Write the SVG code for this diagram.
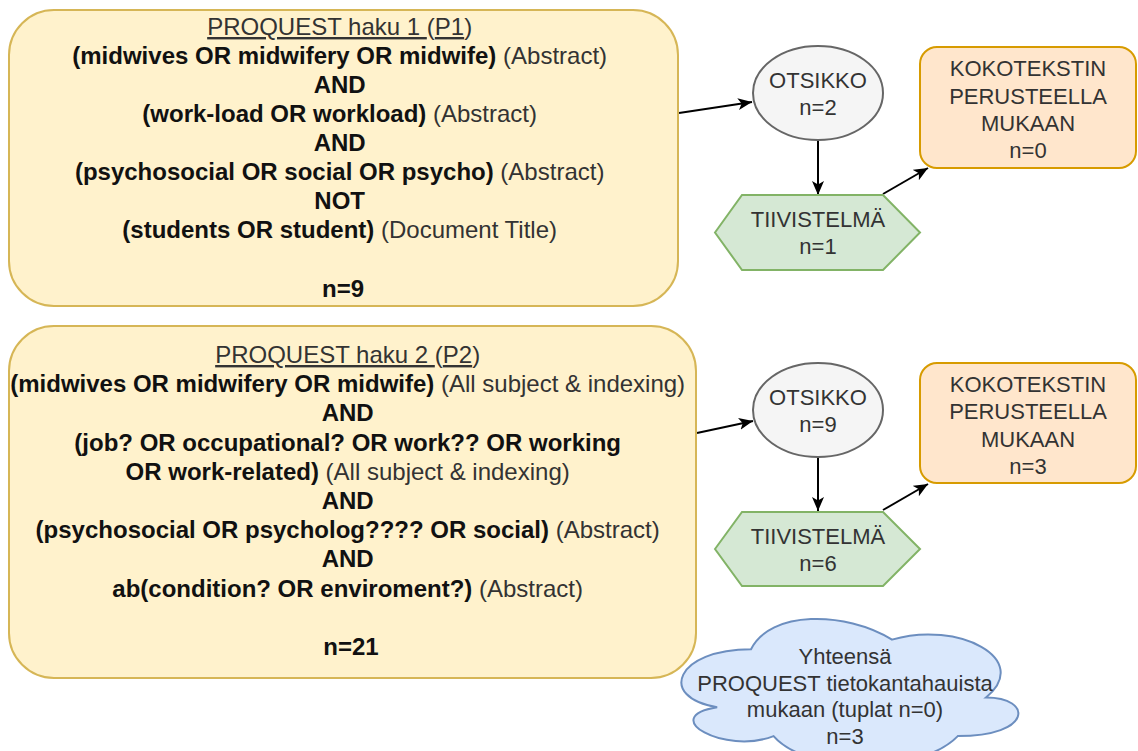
<svg xmlns="http://www.w3.org/2000/svg" width="1138" height="751" viewBox="0 0 1138 751">
<style>
.q{fill:#fff2cc;stroke:#d6b656;stroke-width:2}
.el{fill:#f5f5f5;stroke:#666666;stroke-width:2}
.hx{fill:#d5e8d4;stroke:#82b366;stroke-width:2}
.kk{fill:#ffe6cc;stroke:#d79b00;stroke-width:2}
.cl{fill:#dae8fc;stroke:#6c8ebf;stroke-width:2}
.mt{font-family:"Liberation Sans Narrow","Liberation Sans",Arial,sans-serif;font-size:24px;text-anchor:middle;fill:#333333}
.b{font-weight:bold;fill:#111111}
.u{text-decoration:underline}
.nt{font-family:"Liberation Sans",Arial,Helvetica,sans-serif;font-size:22px;text-anchor:middle;fill:#333333}
.c{stroke:#000000;stroke-width:2;fill:none;marker-end:url(#ah)}
</style>
<defs>
<marker id="ah" markerUnits="userSpaceOnUse" markerWidth="16" markerHeight="14" refX="14" refY="6" orient="auto">
<path d="M0,0 L14,6 L0,12 L3.5,6 Z" fill="#000000"/>
</marker>
</defs>
<g id="connectors">
<line class="c" x1="679" y1="113" x2="752" y2="102"/>
<line class="c" x1="818" y1="141" x2="818" y2="195"/>
<line class="c" x1="883" y1="194" x2="928" y2="168"/>
<line class="c" x1="697" y1="433" x2="753" y2="421"/>
<line class="c" x1="818" y1="457" x2="818" y2="511"/>
<line class="c" x1="883" y1="510" x2="928" y2="484"/>
</g>
<g id="p1">
<rect class="q" x="9" y="10" width="669" height="296" rx="45" ry="45"/>
<text class="mt" x="343">
<tspan x="343" y="35"><tspan class="u">PROQUEST haku 1 </tspan>(<tspan class="u">P1</tspan>)</tspan>
<tspan x="343" y="64"><tspan class="b">(midwives OR midwifery OR midwife)</tspan> (Abstract)</tspan>
<tspan x="343" y="93" class="b">AND</tspan>
<tspan x="343" y="122"><tspan class="b">(work-load OR workload)</tspan> (Abstract)</tspan>
<tspan x="343" y="151" class="b">AND</tspan>
<tspan x="343" y="180"><tspan class="b">(psychosocial OR social OR psycho)</tspan> (Abstract)</tspan>
<tspan x="343" y="209" class="b">NOT</tspan>
<tspan x="343" y="238"><tspan class="b">(students OR student)</tspan> (Document Title)</tspan>
<tspan x="343" y="297" class="b">n=9</tspan>
</text>
</g>
<g id="p2">
<rect class="q" x="9" y="326" width="687" height="352" rx="45" ry="45"/>
<text class="mt" x="351">
<tspan x="351" y="363"><tspan class="u">PROQUEST haku 2 </tspan>(<tspan class="u">P2</tspan>)</tspan>
<tspan x="351" y="392"><tspan class="b">(midwives OR midwifery OR midwife)</tspan> (All subject &amp; indexing)</tspan>
<tspan x="351" y="421" class="b">AND</tspan>
<tspan x="351" y="450.5" class="b">(job? OR occupational? OR work?? OR working</tspan>
<tspan x="351" y="479.5"><tspan class="b">OR work-related)</tspan> (All subject &amp; indexing)</tspan>
<tspan x="351" y="509" class="b">AND</tspan>
<tspan x="351" y="538"><tspan class="b">(psychosocial OR psycholog???? OR social)</tspan> (Abstract)</tspan>
<tspan x="351" y="567" class="b">AND</tspan>
<tspan x="351" y="596.5"><tspan class="b">ab(condition? OR enviroment?)</tspan> (Abstract)</tspan>
<tspan x="351" y="655" class="b">n=21</tspan>
</text>
</g>
<g id="otsikko1">
<ellipse class="el" cx="818" cy="93" rx="65" ry="47"/>
<text class="nt"><tspan x="818" y="87.5">OTSIKKO</tspan><tspan x="818" y="114.5">n=2</tspan></text>
</g>
<g id="tiivistelma1">
<polygon class="hx" points="715,232.5 742,195 883,195 920,232.5 883,270 742,270"/>
<text class="nt"><tspan x="818" y="227">TIIVISTELMÄ</tspan><tspan x="818" y="254">n=1</tspan></text>
</g>
<g id="kokoteksti1">
<rect class="kk" x="920" y="47" width="216" height="121" rx="17" ry="17"/>
<text class="nt"><tspan x="1028" y="76">KOKOTEKSTIN</tspan><tspan x="1028" y="103.5">PERUSTEELLA</tspan><tspan x="1028" y="131">MUKAAN</tspan><tspan x="1028" y="158">n=0</tspan></text>
</g>
<g id="otsikko2">
<ellipse class="el" cx="818" cy="410" rx="65" ry="47"/>
<text class="nt"><tspan x="818" y="404.5">OTSIKKO</tspan><tspan x="818" y="431.5">n=9</tspan></text>
</g>
<g id="tiivistelma2">
<polygon class="hx" points="715,549 742,512 883,512 920,549 883,586 742,586"/>
<text class="nt"><tspan x="818" y="543.5">TIIVISTELMÄ</tspan><tspan x="818" y="570.5">n=6</tspan></text>
</g>
<g id="kokoteksti2">
<rect class="kk" x="920" y="363" width="216" height="120" rx="17" ry="17"/>
<text class="nt"><tspan x="1028" y="391.5">KOKOTEKSTIN</tspan><tspan x="1028" y="419">PERUSTEELLA</tspan><tspan x="1028" y="446.5">MUKAAN</tspan><tspan x="1028" y="474">n=3</tspan></text>
</g>
<g id="yhteensa">
<path class="cl" d="M 751 649.25 C 675.8 649.25 657 697.5 717.16 707.15 C 657 716.8 724.68 755.4 773.56 736.1 C 807.4 774.7 920.2 774.7 957.8 736.1 C 1033 736.1 1033 697.5 986 697.5 C 1033 658.9 957.8 620.3 892 639.6 C 845 610.65 769.8 610.65 751 649.25 Z"/>
<text class="nt"><tspan x="845" y="664">Yhteensä</tspan><tspan x="845" y="690.5">PROQUEST tietokantahauista</tspan><tspan x="845" y="717">mukaan (tuplat n=0)</tspan><tspan x="845" y="743.5">n=3</tspan></text>
</g>
</svg>
